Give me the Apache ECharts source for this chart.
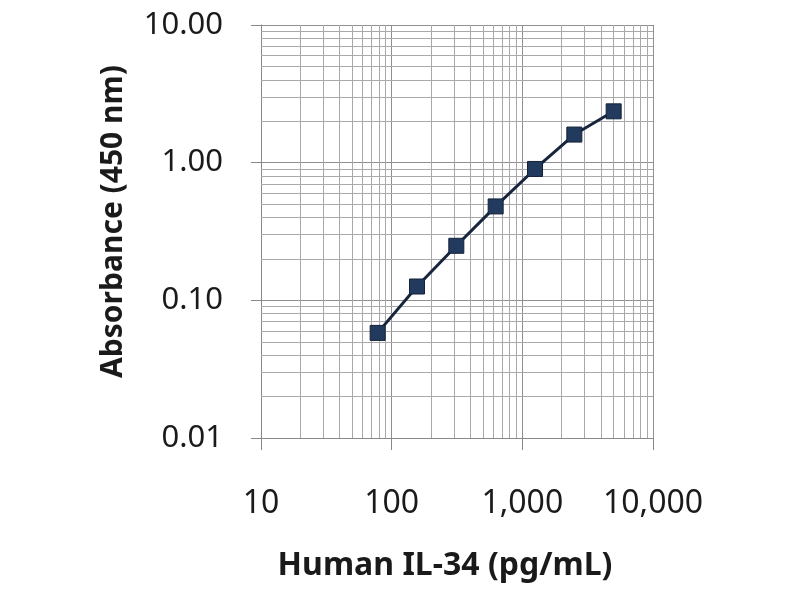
<!DOCTYPE html>
<html>
<head>
<meta charset="utf-8">
<script src="https://cdn.jsdelivr.net/npm/echarts@6/dist/echarts.min.js"></script>
<style>html,body{margin:0;padding:0;background:#fff}#c{width:800px;height:600px}</style>
</head>
<body>
<div id="c"></div>
<script>
// Data
const concentrations = [78.125, 156.25, 312.5, 625, 1250, 2500, 5000]; // pg/mL
const absorbance = [0.058, 0.126, 0.249, 0.481, 0.90, 1.60, 2.36];     // OD 450 nm
const xMinorGrid = [20,30,40,50,60,70,80,90,200,300,400,500,600,700,800,900,2000,3000,4000,5000,6000,7000,8000,9000];
const yMinorGrid = [0.02,0.03,0.04,0.05,0.06,0.07,0.08,0.09,0.2,0.3,0.4,0.5,0.6,0.7,0.8,0.9,2,3,4,5,6,7,8,9];

const FONT = 'Noto Sans';
const chart = echarts.init(document.getElementById('c'), null, {renderer: 'canvas'});
const minorLine = {color: '#a9a9a9', width: 1, type: 'solid'};
chart.setOption({
  animation: false,
  backgroundColor: '#ffffff',
  grid: {left: 261, right: 147, top: 25, bottom: 162},
  xAxis: {
    type: 'log', logBase: 10, min: 10, max: 10000,
    name: 'Human IL-34 (pg/mL)', nameLocation: 'middle', nameGap: 112,
    nameTextStyle: {fontFamily: FONT, fontWeight: 'bold', fontSize: 32, color: '#1a1a1a', padding: [0, 24, 0, 0]},
    axisLine: {show: true, lineStyle: {color: '#888888', width: 1}},
    axisTick: {show: true, length: 12, lineStyle: {color: '#888888'}},
    axisLabel: {margin: 50, fontFamily: FONT, fontSize: 32, color: '#1a1a1a',
      formatter: v => Number(v).toLocaleString('en-US')},
    splitLine: {show: true, lineStyle: {color: '#8f8f8f', width: 1}}
  },
  yAxis: {
    type: 'log', logBase: 10, min: 0.01, max: 10,
    name: 'Absorbance (450 nm)', nameLocation: 'middle', nameGap: 133,
    nameTextStyle: {fontFamily: FONT, fontWeight: 'bold', fontSize: 30, color: '#1a1a1a', padding: [0, 0, 0, 20]},
    axisLine: {show: true, lineStyle: {color: '#888888', width: 1}},
    axisTick: {show: true, length: 10, lineStyle: {color: '#888888'}},
    axisLabel: {margin: 38, fontFamily: FONT, fontSize: 31, color: '#1a1a1a',
      formatter: v => Number(v).toFixed(2)},
    splitLine: {show: true, lineStyle: {color: '#8f8f8f', width: 1}}
  },
  series: [
    {
      type: 'line', data: [], silent: true, z: 1,
      markLine: {
        silent: true, symbol: ['none', 'none'], label: {show: false}, animation: false,
        lineStyle: minorLine,
        data: xMinorGrid.map(v => ({xAxis: v})).concat(yMinorGrid.map(v => ({yAxis: v})))
      }
    },
    {
      type: 'line', z: 5,
      data: concentrations.map((c, i) => [c, absorbance[i]]),
      symbol: 'rect', symbolSize: 15,
      lineStyle: {color: '#17263c', width: 3},
      itemStyle: {color: '#213a5e', borderColor: '#14223a', borderWidth: 1}
    }
  ]
});
</script>
</body>
</html>
